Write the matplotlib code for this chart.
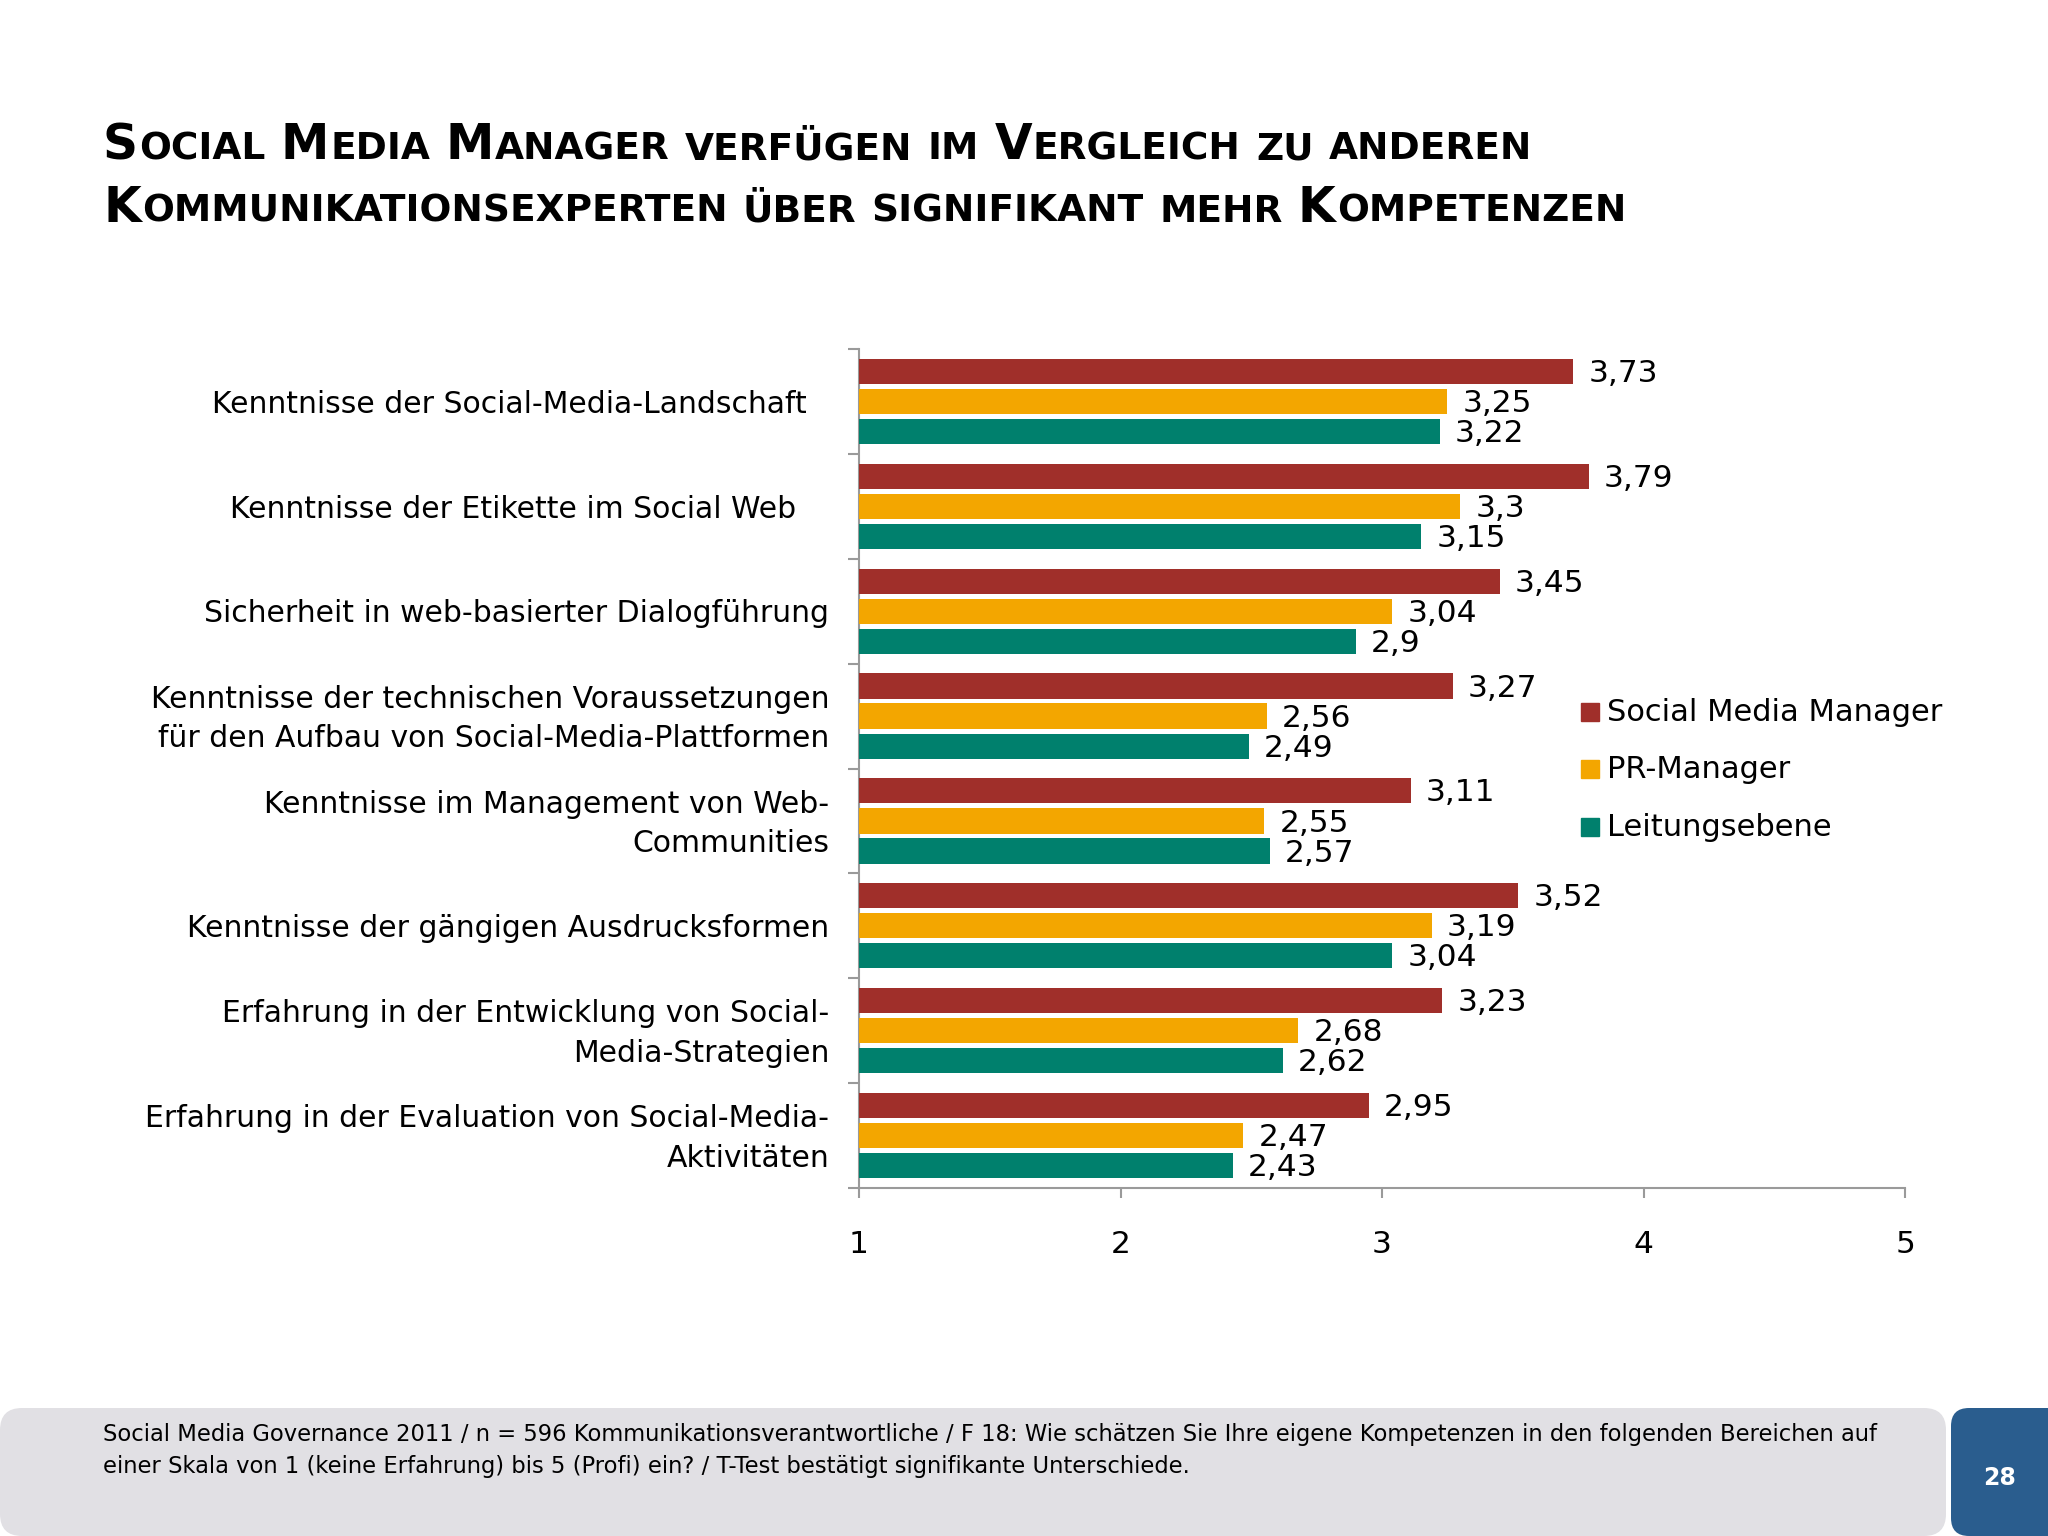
import matplotlib
matplotlib.use("Agg")
import matplotlib.pyplot as plt
from matplotlib.patches import FancyBboxPatch, Rectangle
import numpy as np

# ---------------- data ----------------
categories = [
    "Kenntnisse der Social-Media-Landschaft",
    "Kenntnisse der Etikette im Social Web",
    "Sicherheit in web-basierter Dialogführung",
    "Kenntnisse der technischen Voraussetzungen\nfür den Aufbau von Social-Media-Plattformen",
    "Kenntnisse im Management von Web-\nCommunities",
    "Kenntnisse der gängigen Ausdrucksformen",
    "Erfahrung in der Entwicklung von Social-\nMedia-Strategien",
    "Erfahrung in der Evaluation von Social-Media-\nAktivitäten",
]
series_names = ["Social Media Manager", "PR-Manager", "Leitungsebene"]
smm_values = [3.73, 3.79, 3.45, 3.27, 3.11, 3.52, 3.23, 2.95]
pr_values = [3.25, 3.30, 3.04, 2.56, 2.55, 3.19, 2.68, 2.47]
lead_values = [3.22, 3.15, 2.90, 2.49, 2.57, 3.04, 2.62, 2.43]
xticks = [1, 2, 3, 4, 5]
title_lines = ["Social Media Manager verfügen im Vergleich zu anderen",
               "Kommunikationsexperten über signifikant mehr Kompetenzen"]
footer_lines = ["Social Media Governance 2011 / n = 596 Kommunikationsverantwortliche / F 18: Wie schätzen Sie Ihre eigene Kompetenzen in den folgenden Bereichen auf",
                "einer Skala von 1 (keine Erfahrung) bis 5 (Profi) ein? / T-Test bestätigt signifikante Unterschiede."]
page_number = "28"

colors = ["#a02f2a", "#f3a600", "#00806d"]

W, H = 2048, 1536
DPI = 100
plt.rcParams['font.family'] = ['DejaVu Sans']
fig = plt.figure(figsize=(W / DPI, H / DPI), dpi=DPI)
fig.patch.set_facecolor("white")

# ---------------- axes ----------------
ax_l, ax_r, ax_t, ax_b = 859, 1905, 349, 1188
ax = fig.add_axes([ax_l / W, 1 - ax_b / H, (ax_r - ax_l) / W, (ax_b - ax_t) / H])
n = len(categories)
y = np.arange(n)
off = 0.287
bh = 0.24
all_series = [smm_values, pr_values, lead_values]
for k, vals in enumerate(all_series):
    ypos = y + (k - 1) * off
    ax.barh(ypos, np.array(vals) - 1, left=1, height=bh, color=colors[k], zorder=3)
    for yy, v in zip(ypos, vals):
        ax.annotate(f"{v:g}".replace(".", ","), xy=(v, yy), xytext=(11, -1.5),
                    textcoords="offset points", ha="left", va="center",
                    fontsize=22.5, color="black")

ax.set_xlim(1, 5)
ax.set_ylim(n - 0.5, -0.5)
for s in ["top", "right"]:
    ax.spines[s].set_visible(False)
for s in ["left", "bottom"]:
    ax.spines[s].set_color("#9a9a9a")
    ax.spines[s].set_linewidth(1.5)
ax.set_xticks(xticks)
ax.set_xticklabels([str(t) for t in xticks], fontsize=22.5)
ax.tick_params(axis="x", direction="out", length=7, width=1.5, color="#9a9a9a", pad=23)
ax.set_yticks(np.arange(-0.5, n, 1.0))
ax.set_yticklabels([])
ax.tick_params(axis="y", direction="out", length=8, width=1.5, color="#9a9a9a")

extra = [16, 24, 0, 0, 0, 0, 0, 0]
for i, lab in enumerate(categories):
    ax.annotate(lab, xy=(0, i), xycoords=("axes fraction", "data"),
                xytext=(-21.5 - extra[i], -2), textcoords="offset points",
                ha="right", va="center", multialignment="right",
                fontsize=21.5, linespacing=1.45)

# ---------------- legend ----------------
leg_y = [712, 769, 827]
for k, name in enumerate(series_names):
    fig.patches.append(Rectangle(((1581) / W, 1 - (leg_y[k] + 9) / H), 18 / W, 18 / H,
                                 transform=fig.transFigure, color=colors[k]))
    fig.text(1607 / W, 1 - leg_y[k] / H, name, fontsize=22, ha="left", va="center")

# ---------------- title (small caps) ----------------
renderer = fig.canvas.get_renderer()
big, small = 35, 27


def measure(txt, size):
    t = fig.text(0, 0, txt, fontsize=size, fontweight="bold")
    w = t.get_window_extent(renderer).width
    t.remove()
    return w


space_w = measure("A A", big) - measure("AA", big)


def smallcaps(x, ybase, s):
    cur = x
    for word in s.split(" "):
        runs = []
        for ch in word:
            isbig = not ch.islower()
            if runs and runs[-1][1] == isbig:
                runs[-1][0] += ch
            else:
                runs.append([ch, isbig])
        for txt, isbig in runs:
            t = fig.text(cur / W, 1 - ybase / H, txt.upper(), fontsize=big if isbig else small,
                         fontweight="bold", ha="left", va="baseline", color="black")
            cur += t.get_window_extent(renderer).width + 1
        cur += space_w * 0.85


smallcaps(103, 159, title_lines[0])
smallcaps(103, 222, title_lines[1])

# ---------------- footer ----------------
fig.patches.append(FancyBboxPatch((0, 0), 1946, 128, boxstyle="round,pad=0,rounding_size=22",
                                  transform=None, facecolor="#e1e0e4", edgecolor="none"))
fig.patches.append(FancyBboxPatch((1951, 0), 140, 128, boxstyle="round,pad=0,rounding_size=18",
                                  transform=None, facecolor="#2a5d8e", edgecolor="none"))
fig.text(103 / W, 1 - 1435 / H, footer_lines[0], fontsize=16.3, ha="left", va="center")
fig.text(103 / W, 1 - 1467 / H, footer_lines[1], fontsize=16.3, ha="left", va="center")
fig.text(2000 / W, 1 - 1478 / H, page_number, fontsize=17, fontweight="bold", color="white",
         ha="center", va="center")

fig.savefig("out.png", dpi=DPI)
